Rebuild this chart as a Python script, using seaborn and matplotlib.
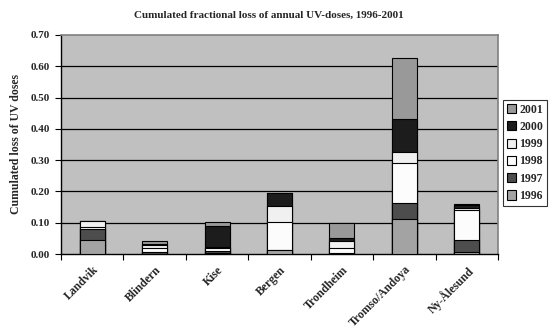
import numpy as np
import pandas as pd
import matplotlib
matplotlib.use("Agg")
import matplotlib.pyplot as plt
import seaborn as sns
from matplotlib.patches import Patch

# Stations along the x axis
stations = ["Landvik", "Blindern", "Kise", "Bergen", "Trondheim",
            "Tromso/Andoya", "Ny-Ålesund"]

# Fractional loss of annual UV dose per year and station
loss_1996 = [0.045, 0.000, 0.003, 0.013, 0.000, 0.111, 0.006]
loss_1997 = [0.034, 0.005, 0.005, 0.000, 0.004, 0.051, 0.040]
loss_1998 = [0.006, 0.015, 0.010, 0.088, 0.016, 0.130, 0.095]
loss_1999 = [0.020, 0.008, 0.005, 0.051, 0.020, 0.035, 0.006]
loss_2000 = [0.000, 0.004, 0.065, 0.044, 0.012, 0.103, 0.010]
loss_2001 = [0.000, 0.008, 0.013, 0.000, 0.048, 0.198, 0.004]

years = ["1996", "1997", "1998", "1999", "2000", "2001"]
series = [loss_1996, loss_1997, loss_1998, loss_1999, loss_2000, loss_2001]
colors = {"1996": "#a3a3a3", "1997": "#4d4d4d", "1998": "#fcfcfc",
          "1999": "#f0f0f0", "2000": "#1c1c1c", "2001": "#999999"}

df = pd.DataFrame({"station": stations})
for y, vals in zip(years, series):
    df[y] = vals
cum = df[years].cumsum(axis=1)

sns.set_style("white")
plt.rcParams["font.family"] = ["Liberation Serif", "DejaVu Serif"]
plt.rcParams["font.weight"] = "bold"

fig = plt.figure(figsize=(5.49, 3.29), dpi=100)
ax = fig.add_axes([61 / 549, 1 - 254 / 329, 437 / 549, 219 / 329])
ax.set_facecolor("#c0c0c0")

# Stack by drawing cumulative totals, tallest first
for y in reversed(years):
    sns.barplot(x=df["station"], y=cum[y], color=colors[y], width=0.4,
                edgecolor="black", linewidth=0.8, saturation=1, ax=ax,
                zorder=3)

ax.set_ylim(0, 0.70)
ax.set_xlim(-0.5, len(stations) - 0.5)
ax.set_yticks(np.arange(0, 0.71, 0.1))
ax.set_yticklabels([f"{v:.2f}" for v in np.arange(0, 0.71, 0.1)],
                   fontsize=8, fontweight="bold")
for v in np.arange(0.1, 0.65, 0.1):
    ax.axhline(v, color="black", linewidth=0.9, zorder=1)

ax.set_xticks(np.arange(-0.5, len(stations), 1), minor=False)
ax.set_xticklabels([])
ax.set_xticks(np.arange(len(stations)), minor=True)
ax.set_xticklabels(stations, minor=True, rotation=45, ha="right",
                   rotation_mode="anchor", fontsize=8.5, fontweight="bold")
ax.tick_params(axis="x", which="minor", length=0, pad=7)
ax.tick_params(axis="x", which="major", length=4, width=0.8,
               direction="out", color="black", bottom=True)
ax.tick_params(axis="y", length=4, width=0.8, direction="out",
               color="black", left=True, pad=4)

ax.set_xlabel("")
ax.set_ylabel("Cumulated loss of UV doses", fontsize=8.5, fontweight="bold",
              labelpad=6)

for side in ["top", "right"]:
    ax.spines[side].set_color("#808080")
    ax.spines[side].set_linewidth(1.2)
for side in ["left", "bottom"]:
    ax.spines[side].set_color("black")
    ax.spines[side].set_linewidth(1.0)

fig.text(0.49, 0.955, "Cumulated fractional loss of annual UV-doses, 1996-2001",
         ha="center", va="center", fontsize=8, fontweight="bold")

handles = [Patch(facecolor=colors[y], edgecolor="black", linewidth=0.8,
                 label=y) for y in reversed(years)]
leg = fig.legend(handles=handles, loc="upper left",
                 bbox_to_anchor=(503 / 549, 1 - 100 / 329),
                 frameon=True, fancybox=False, edgecolor="black",
                 fontsize=8.5, handlelength=0.8, handleheight=0.8,
                 handletextpad=0.3, borderpad=0.3, labelspacing=0.45,
                 borderaxespad=0)
leg.get_frame().set_linewidth(0.8)
for t in leg.get_texts():
    t.set_fontweight("bold")

fig.savefig("out.png", dpi=100, facecolor="white")
